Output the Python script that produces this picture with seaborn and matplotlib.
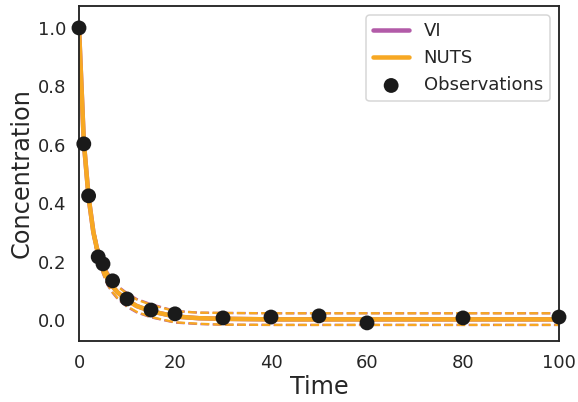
import matplotlib
matplotlib.use("Agg")
import matplotlib.pyplot as plt
import seaborn as sns

# Observations
obs_time = [0, 1, 2, 4, 5, 7, 10, 15, 20, 30, 40, 50, 60, 80, 100]
obs_conc = [1.0, 0.603, 0.425, 0.216, 0.192, 0.134, 0.072, 0.034, 0.021,
            0.007, 0.010, 0.014, -0.010, 0.007, 0.010]

# Posterior curves
grid_time = [0, 1, 2, 3, 4, 5, 6, 7, 8, 10, 12, 15, 20, 25, 30, 40, 60, 100]
nuts_mean = [1.0, 0.61, 0.42, 0.30, 0.225, 0.175, 0.14, 0.115, 0.095, 0.068,
             0.048, 0.030, 0.012, 0.006, 0.004, 0.002, 0.002, 0.002]
nuts_upper = [1.0, 0.615, 0.43, 0.31, 0.24, 0.19, 0.16, 0.135, 0.115, 0.09,
              0.07, 0.052, 0.030, 0.025, 0.024, 0.023, 0.023, 0.023]
nuts_lower = [1.0, 0.60, 0.41, 0.29, 0.21, 0.16, 0.12, 0.095, 0.075, 0.047,
              0.028, 0.010, -0.008, -0.013, -0.016, -0.017, -0.017, -0.017]
vi_mean = [1.0, 0.61, 0.42, 0.30, 0.225, 0.175, 0.14, 0.115, 0.095, 0.068,
           0.048, 0.030, 0.012, 0.006, 0.004, 0.002, 0.002, 0.002]
vi_upper = [1.0, 0.617, 0.432, 0.312, 0.242, 0.192, 0.162, 0.137, 0.117, 0.092,
            0.072, 0.054, 0.031, 0.025, 0.024, 0.023, 0.023, 0.023]
vi_lower = [1.0, 0.598, 0.408, 0.288, 0.208, 0.158, 0.118, 0.093, 0.073, 0.045,
            0.026, 0.009, -0.009, -0.014, -0.016, -0.017, -0.017, -0.017]

VI_COLOR = "#b25ba8"
NUTS_COLOR = "#f7a823"

sns.set_theme(style="white", context="talk")

fig = plt.figure(figsize=(578 / 72, 402 / 72), dpi=72)
ax = fig.add_axes([79 / 578, 1 - 341 / 402, 480 / 578, 335 / 402])

sns.lineplot(x=grid_time, y=vi_mean, ax=ax, color=VI_COLOR, lw=4.5, label="VI")
sns.lineplot(x=grid_time, y=vi_upper, ax=ax, color=VI_COLOR, lw=2.3, linestyle="--")
sns.lineplot(x=grid_time, y=vi_lower, ax=ax, color=VI_COLOR, lw=2.3, linestyle="--")
sns.lineplot(x=grid_time, y=nuts_mean, ax=ax, color=NUTS_COLOR, lw=4.5, label="NUTS")
sns.lineplot(x=grid_time, y=nuts_upper, ax=ax, color=NUTS_COLOR, lw=2.3, linestyle="--")
sns.lineplot(x=grid_time, y=nuts_lower, ax=ax, color=NUTS_COLOR, lw=2.3, linestyle="--")
sns.scatterplot(x=obs_time, y=obs_conc, ax=ax, color="#1a1a1a", s=220,
                edgecolor="none", label="Observations", zorder=5, clip_on=False)

ax.set_xlim(0, 100)
ax.set_ylim(-0.072, 1.075)
ax.set_xticks([0, 20, 40, 60, 80, 100])
ax.set_yticks([0.0, 0.2, 0.4, 0.6, 0.8, 1.0])
ax.set_yticklabels(["0.0", "0.2", "0.4", "0.6", "0.8", "1.0"])
ax.tick_params(labelsize=18)
ax.set_xlabel("Time", fontsize=24)
ax.set_ylabel("Concentration", fontsize=24)
ax.legend(loc="upper right", fontsize=18)

fig.savefig("out.png", dpi=72)
